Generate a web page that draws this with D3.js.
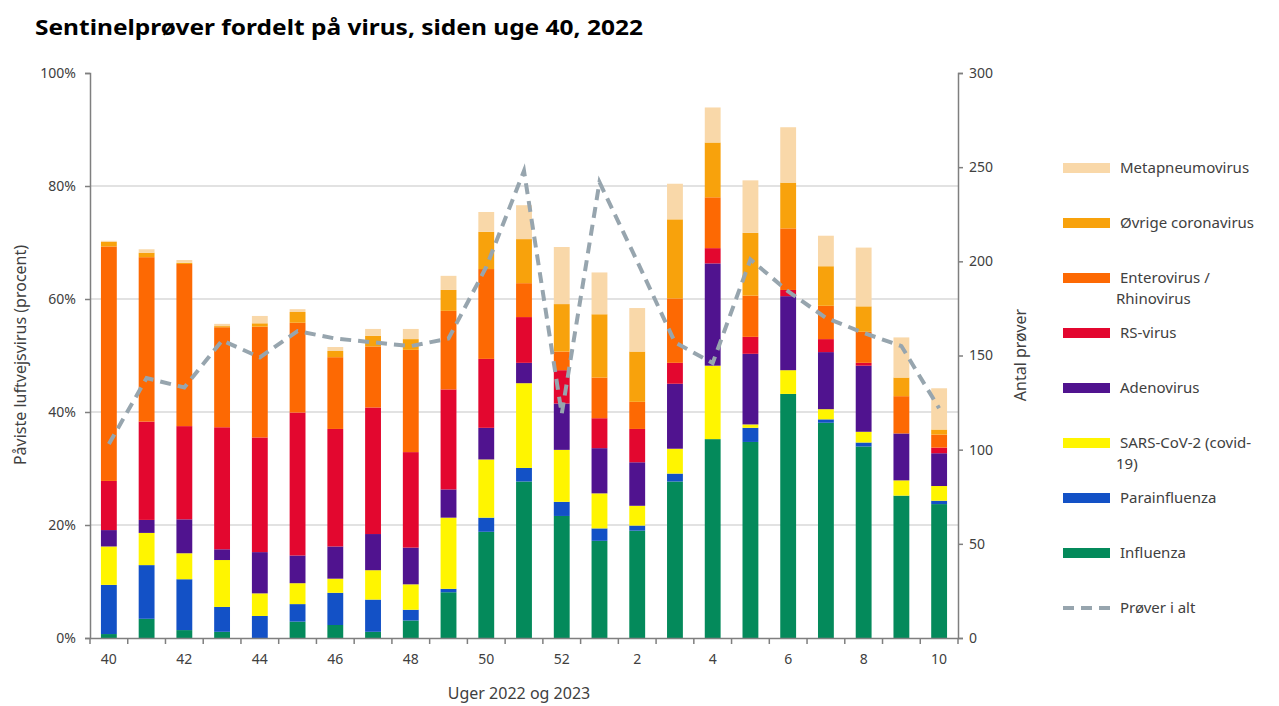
<!DOCTYPE html>
<html>
<head>
<meta charset="utf-8">
<script src="https://cdn.jsdelivr.net/npm/d3@7"></script>
<style>
  html, body { margin: 0; padding: 0; background: #fff; }
  svg { display: block; }
  text { font-family: "Noto Sans", "DejaVu Sans", sans-serif; }
</style>
</head>
<body>
<svg id="chart" width="1279" height="706"></svg>
<script>
// ---- Data ----
const weeks = ["40","41","42","43","44","45","46","47","48","49","50","51","52","1","2","3","4","5","6","7","8","9","10"];
const tickLabels = ["40","42","44","46","48","50","52","2","4","6","8","10"];
const influenza      = [0.7,3.4,1.4,1.1,0.0,2.9,2.3,1.1,3.1,8.1,18.8,27.7,21.6,17.2,19.0,27.7,35.2,34.7,43.2,38.1,33.9,25.2,23.7];
const parainfluenza  = [8.7,9.5,9.0,4.4,3.9,3.1,5.7,5.7,1.9,0.6,2.5,2.4,2.5,2.2,0.9,1.4,0.0,2.5,0.0,0.6,0.7,0.0,0.6];
const sarsCov2       = [6.8,5.7,4.6,8.3,4.0,3.7,2.5,5.2,4.5,12.6,10.3,15.0,9.2,6.2,3.5,4.4,13.0,0.6,4.2,1.8,1.9,2.7,2.6];
const adenovirus     = [2.9,2.3,6.0,1.9,7.3,4.9,5.7,6.4,6.5,5.0,5.6,3.6,8.2,8.0,7.7,11.5,18.1,12.5,13.1,10.1,11.7,8.3,5.8];
const rsVirus        = [8.7,17.4,16.5,21.6,20.3,25.3,20.8,22.4,16.9,17.7,12.2,8.1,5.9,5.3,5.9,3.7,2.7,3.0,1.1,2.3,0.5,0.0,1.0];
const enteroRhino    = [41.5,29.1,28.7,17.7,19.6,15.9,12.7,10.8,18.1,13.9,15.9,6.0,3.3,7.2,4.8,11.4,9.0,7.3,10.9,5.9,5.5,6.6,2.3];
const coronavirus    = [0.8,0.8,0.2,0.2,0.6,1.9,1.1,1.9,1.9,3.7,6.6,7.8,8.4,11.2,8.9,14.0,9.7,11.1,8.1,7.0,4.5,3.3,0.9];
const metapneumo     = [0.2,0.6,0.5,0.4,1.3,0.5,0.7,1.2,1.8,2.5,3.5,6.0,10.1,7.4,7.7,6.3,6.2,9.3,9.8,5.4,10.4,7.1,7.3];
const proverIAlt     = [103,138,133,158,149,163,159,157,155,159,197,248,119,242,200,157,146,201,184,170,162,155,122];

const seriesKeys   = ["Influenza","Parainfluenza","SARS-CoV-2","Adenovirus","RS-virus","Entero","Corona","Meta"];
const seriesArrays = [influenza, parainfluenza, sarsCov2, adenovirus, rsVirus, enteroRhino, coronavirus, metapneumo];
const seriesColors = ["#048A5B","#1351C6","#FFF500","#50138F","#E3072F","#FD6903","#F8A20C","#F9D8A9"];
const legendLabels = {
  "Meta": ["Metapneumovirus"],
  "Corona": ["Øvrige coronavirus"],
  "Entero": ["Enterovirus /", "Rhinovirus"],
  "RS-virus": ["RS-virus"],
  "Adenovirus": ["Adenovirus"],
  "SARS-CoV-2": ["SARS-CoV-2 (covid-", "19)"],
  "Parainfluenza": ["Parainfluenza"],
  "Influenza": ["Influenza"]
};

// ---- Build table ----
const table = weeks.map((w, i) => {
  const row = { week: w, total: proverIAlt[i] };
  seriesKeys.forEach((k, j) => row[k] = seriesArrays[j][i]);
  return row;
});

const svg = d3.select("#chart");
const M = { left: 90, right: 958, top: 73, bottom: 638 };

const x = d3.scaleBand().domain(weeks).range([M.left, M.right]).padding(0);
const yL = d3.scaleLinear().domain([0, 100]).range([M.bottom, M.top]);
const yR = d3.scaleLinear().domain([0, 300]).range([M.bottom, M.top]);
const color = d3.scaleOrdinal().domain(seriesKeys).range(seriesColors);

const axisColor = "#7f7f7f";
const textColor = "#404040";

// Title
svg.append("text")
  .attr("x", 35).attr("y", 35)
  .attr("font-size", 21).attr("font-weight", "bold").attr("fill", "#000")
  .attr("font-family", "\"DejaVu Sans\", sans-serif")
  .attr("textLength", 608).attr("lengthAdjust", "spacingAndGlyphs")
  .text("Sentinelprøver fordelt på virus, siden uge 40, 2022");

// Gridlines
svg.append("g").selectAll("line")
  .data([20, 40, 60, 80]).join("line")
  .attr("x1", M.left).attr("x2", M.right)
  .attr("y1", d => yL(d)).attr("y2", d => yL(d))
  .attr("stroke", "#d9d9d9").attr("stroke-width", 1.3);

// Bars
const stacked = d3.stack().keys(seriesKeys)(table);
const barW = x.bandwidth() * 0.42;
svg.append("g").selectAll("g")
  .data(stacked).join("g")
  .attr("fill", d => color(d.key))
  .selectAll("rect")
  .data(d => d).join("rect")
  .attr("x", d => x(d.data.week) + (x.bandwidth() - barW) / 2)
  .attr("width", barW)
  .attr("y", d => yL(d[1]))
  .attr("height", d => Math.max(0, yL(d[0]) - yL(d[1])));

// Line
const line = d3.line()
  .x(d => x(d.week) + x.bandwidth() / 2)
  .y(d => yR(d.total));
svg.append("path")
  .datum(table)
  .attr("d", line)
  .attr("fill", "none")
  .attr("stroke", "#97A5AE")
  .attr("stroke-width", 4)
  .attr("stroke-dasharray", "11,7");

// Left axis
const gL = svg.append("g").attr("transform", `translate(${M.left},0)`)
  .call(d3.axisLeft(yL).tickValues([0,20,40,60,80,100]).tickFormat(d => d + "%").tickSize(5).tickPadding(9));
// Right axis
const gR = svg.append("g").attr("transform", `translate(${M.right},0)`)
  .call(d3.axisRight(yR).tickValues([0,50,100,150,200,250,300]).tickSize(5).tickPadding(6));
// Bottom axis
const gB = svg.append("g").attr("transform", `translate(0,${M.bottom})`)
  .call(d3.axisBottom(x).tickSize(0).tickPadding(16)
    .tickFormat(d => tickLabels.includes(d) && weeks.indexOf(d) % 2 === 0 ? d : ""));

[gL, gR, gB].forEach(g => {
  g.select(".domain").attr("stroke", axisColor).attr("stroke-width", 1.5);
  g.selectAll(".tick line").attr("stroke", axisColor).attr("stroke-width", 1.5);
  g.selectAll(".tick text").attr("fill", textColor).attr("font-size", 14)
    .attr("font-family", "\"Noto Sans\", sans-serif");
});

// x ticks at band boundaries
const bounds = weeks.map(w => x(w)).concat([x.range()[1]]);
gB.selectAll(".bnd").data(bounds).join("line")
  .attr("class", "bnd")
  .attr("x1", d => d).attr("x2", d => d)
  .attr("y1", 0).attr("y2", 6)
  .attr("stroke", axisColor).attr("stroke-width", 1.5);

// Axis titles
svg.append("text")
  .attr("transform", `translate(26,355) rotate(-90)`)
  .attr("text-anchor", "middle").attr("font-size", 16).attr("fill", textColor)
  .text("Påviste luftvejsvirus (procent)");
svg.append("text")
  .attr("transform", `translate(1026,355) rotate(-90)`)
  .attr("text-anchor", "middle").attr("font-size", 16).attr("fill", textColor)
  .text("Antal prøver");
svg.append("text")
  .attr("x", 519).attr("y", 699)
  .attr("text-anchor", "middle").attr("font-size", 16).attr("fill", textColor)
  .text("Uger 2022 og 2023");

// Legend
const legendOrder = ["Meta","Corona","Entero","RS-virus","Adenovirus","SARS-CoV-2","Parainfluenza","Influenza"];
const lg = svg.append("g");
legendOrder.forEach((k, i) => {
  const cy = 168 + i * 55;
  lg.append("rect").attr("x", 1063).attr("y", cy - 5).attr("width", 47).attr("height", 10).attr("fill", color(k));
  const t = lg.append("text").attr("x", 1120).attr("y", cy + 5).attr("font-size", 15).attr("fill", textColor);
  legendLabels[k].forEach((ln, j) => {
    t.append("tspan").attr("x", j === 0 ? 1120 : 1116).attr("dy", j === 0 ? 0 : 21).text(ln);
  });
});
{
  const cy = 168 + 8 * 55;
  lg.append("line").attr("x1", 1063).attr("x2", 1110).attr("y1", cy).attr("y2", cy)
    .attr("stroke", "#97A5AE").attr("stroke-width", 4).attr("stroke-dasharray", "11,7");
  lg.append("text").attr("x", 1120).attr("y", cy + 5).attr("font-size", 15).attr("fill", textColor).text("Prøver i alt");
}
</script>
</body>
</html>
